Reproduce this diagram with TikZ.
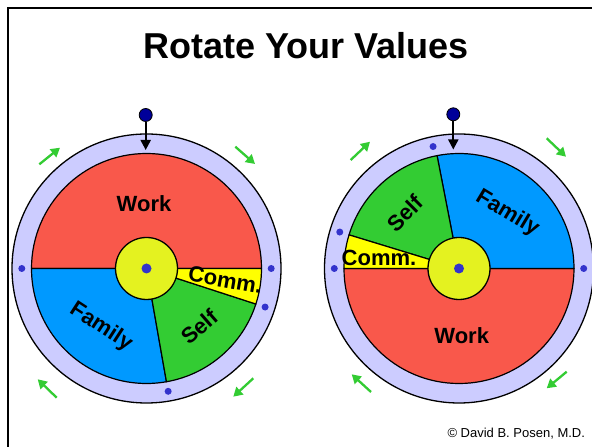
\documentclass[tikz,border=0pt]{standalone}
\usepackage{fontspec}
\setmainfont{Liberation Sans}
\usetikzlibrary{arrows.meta,calc}
\definecolor{workc}{RGB}{249,88,75}
\definecolor{famc}{RGB}{0,153,255}
\definecolor{selfc}{RGB}{51,204,51}
\definecolor{commc}{RGB}{255,255,0}
\definecolor{hubc}{RGB}{228,242,32}
\definecolor{ringc}{RGB}{204,204,255}
\definecolor{dotc}{RGB}{51,51,204}
\definecolor{pinc}{RGB}{0,0,153}
\definecolor{arrc}{RGB}{51,204,51}
\tikzset{
  ring/.style={fill=ringc,draw=black,line width=1.3pt},
  slice/.style={draw=black,line width=1.2pt,line join=round},
  hub/.style={circle,fill=hubc,draw=black,line width=1.3pt,minimum size=62pt,inner sep=0pt},
  cdot/.style={circle,fill=dotc,minimum size=10pt,inner sep=0pt},
  rdot/.style={circle,fill=dotc,minimum size=7pt,inner sep=0pt},
  pin/.style={circle,fill=pinc,draw=black,line width=0.8pt,minimum size=13pt,inner sep=0pt},
  pinarrow/.style={line width=2pt,-{Triangle[length=10pt,width=10pt]}},
  turn/.style={draw=arrc,line width=2.3pt,-{Triangle[length=9pt,width=10pt]}},
  lbl/.style={font=\fontsize{22}{24}\selectfont\bfseries,inner sep=0pt},
}
\begin{document}
\begin{tikzpicture}[x=1pt,y=1pt]
\useasboundingbox (0,0) rectangle (592,447);
\clip (0,0) rectangle (592,447);
\fill[white] (0,0) rectangle (592,447);
% frame
\draw[line width=2.3pt] (7.8,-10) -- (7.8,439.2) -- (610,439.2);
% title
\node[font=\fontsize{36}{40}\selectfont\bfseries,anchor=base] (title) at (305.8,388.7) {Rotate Your Values};
\node[font=\fontsize{13}{15}\selectfont,anchor=base east] (copy) at (588.5,9.5) {\textcopyright\ David B. Posen, M.D.};

% ===== left wheel =====
\coordinate (L) at (146.5,178.5);
\draw[ring] (L) circle (134.5);
\draw[slice,fill=workc] (L) -- ++(0:115) arc (0:180:115) -- cycle;
\draw[slice,fill=famc] (L) -- ++(180:115) arc (180:280:115) -- cycle;
\draw[slice,fill=selfc] (L) -- ++(280:115) arc (280:342:115) -- cycle;
\draw[slice,fill=commc] (L) -- ++(342:115) arc (342:360:115) -- cycle;
\node[hub] (hubL) at (L) {};
\node[cdot] (cL) at (L) {};
\node[rdot] (dL1) at ($(L)+(0:124.7)$) {};
\node[rdot] (dL2) at ($(L)+(180:124.7)$) {};
\node[rdot] (dL3) at ($(L)+(342:124.7)$) {};
\node[rdot] (dL4) at ($(L)+(280:124.7)$) {};
\node[lbl] (workL) at (144,243.7) {Work};
\node[lbl,rotate=-33] (famL) at (101,120) {Family};
\node[lbl,rotate=41] (selfL) at (199.3,120.3) {Self};
\node[lbl,rotate=-10] (commL) at (225.3,167) {Comm.};
\node[pin] (pinL) at (145.7,332) {};
\coordinate (tipL) at (145.7,297);
\draw[pinarrow] (pinL) -- (tipL);
\coordinate (aL1s) at (39.3,282.7); \coordinate (aL1e) at (60,299.3);
\coordinate (aL2s) at (235.3,300.3); \coordinate (aL2e) at (255,283);
\coordinate (aL3s) at (56.7,49.3); \coordinate (aL3e) at (37.7,67.7);
\coordinate (aL4s) at (253.3,68.7); \coordinate (aL4e) at (233.3,50.3);
\draw[turn] (aL1s) -- (aL1e);
\draw[turn] (aL2s) -- (aL2e);
\draw[turn] (aL3s) -- (aL3e);
\draw[turn] (aL4s) -- (aL4e);

% ===== right wheel =====
\coordinate (R) at (459,178.5);
\draw[ring] (R) circle (134.5);
\draw[slice,fill=workc] (R) -- ++(180:115) arc (180:360:115) -- cycle;
\draw[slice,fill=famc] (R) -- ++(0:115) arc (0:101:115) -- cycle;
\draw[slice,fill=selfc] (R) -- ++(101:115) arc (101:163:115) -- cycle;
\draw[slice,fill=commc] (R) -- ++(163:115) arc (163:180:115) -- cycle;
\node[hub] (hubR) at (R) {};
\node[cdot] (cR) at (R) {};
\node[rdot] (dR1) at ($(R)+(0:124.7)$) {};
\node[rdot] (dR2) at ($(R)+(180:124.7)$) {};
\node[rdot] (dR3) at ($(R)+(163:124.7)$) {};
\node[rdot] (dR4) at ($(R)+(102:124.7)$) {};
\node[lbl] (workR) at (461.7,111) {Work};
\node[lbl,rotate=-31] (famR) at (507.3,233.7) {Family};
\node[lbl,rotate=45] (selfR) at (405,233.7) {Self};
\node[lbl] (commR) at (379,188.7) {Comm.};
\node[pin] (pinR) at (453.3,332.7) {};
\coordinate (tipR) at (453.3,297.5);
\draw[pinarrow] (pinR) -- (tipR);
\coordinate (aR1s) at (350.7,287); \coordinate (aR1e) at (370,305.3);
\coordinate (aR2s) at (546.7,308.7); \coordinate (aR2e) at (566,290.3);
\coordinate (aR3s) at (371,55); \coordinate (aR3e) at (351.7,72.7);
\coordinate (aR4s) at (566.7,75.3); \coordinate (aR4e) at (546.7,58.7);
\draw[turn] (aR1s) -- (aR1e);
\draw[turn] (aR2s) -- (aR2e);
\draw[turn] (aR3s) -- (aR3e);
\draw[turn] (aR4s) -- (aR4e);
\end{tikzpicture}
\end{document}
